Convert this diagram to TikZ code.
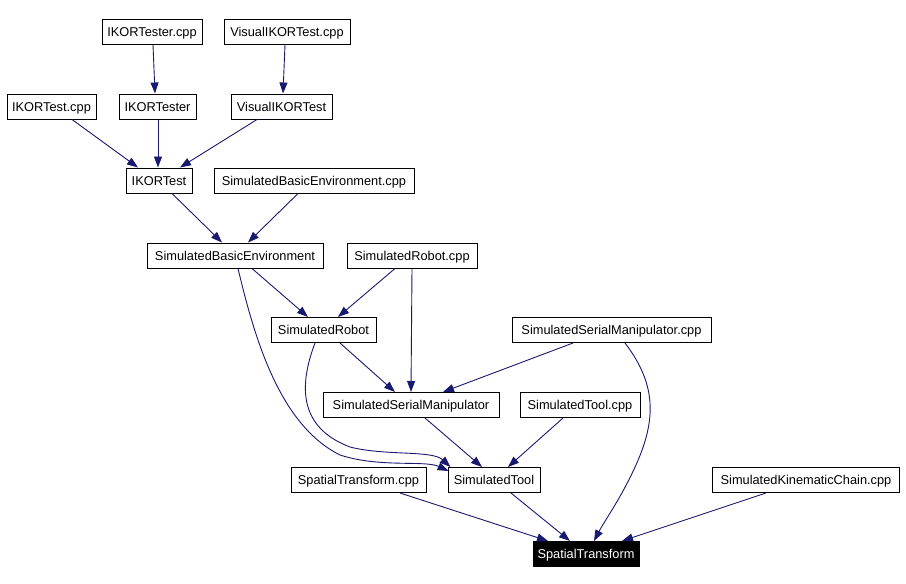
\documentclass[tikz,border=0pt]{standalone}
\usepackage{fontspec}
\setmainfont{Liberation Sans}
\usetikzlibrary{arrows.meta}
\definecolor{edgec}{RGB}{25,25,112}
\begin{document}
\begin{tikzpicture}[x=1pt,y=-1pt,
  box/.style={draw=black,line width=1pt,minimum height=25pt,inner xsep=4pt,inner ysep=0pt,
    text height=10.8pt,text depth=1.6pt,
    font=\fontsize{12.8}{15}\selectfont,fill=white},
  blackbox/.style={box,fill=black,text=white},
  edge/.style={draw=edgec,line width=0.9pt,-{Triangle[length=11pt,width=8pt]}}]
\useasboundingbox[fill=white] (0,0) rectangle (906,584);
\node[box,minimum width=100pt] (itc) at (152,31.5) {IKORTester.cpp};
\node[box,minimum width=126pt] (vtc) at (287,31.5) {VisualIKORTest.cpp};
\node[box,minimum width=89pt] (itcpp) at (51.5,106.5) {IKORTest.cpp};
\node[box,minimum width=77pt] (ite) at (157.5,106.5) {IKORTester};
\node[box,minimum width=101pt] (vit) at (281.5,106.5) {VisualIKORTest};
\node[box,minimum width=66pt] (ikt) at (159,180.5) {IKORTest};
\node[box,minimum width=200pt] (sbec) at (314,180.5) {SimulatedBasicEnvironment.cpp};
\node[box,minimum width=176pt] (sbe) at (235,255.5) {SimulatedBasicEnvironment};
\node[box,minimum width=130pt] (src) at (412,255.5) {SimulatedRobot.cpp};
\node[box,minimum width=105pt] (sr) at (323.5,330) {SimulatedRobot};
\node[box,minimum width=199pt] (ssmc) at (611.5,330) {SimulatedSerialManipulator.cpp};
\node[box,minimum width=176pt] (ssm) at (411,405) {SimulatedSerialManipulator};
\node[box,minimum width=120pt] (stc) at (580,405) {SimulatedTool.cpp};
\node[box,minimum width=135pt] (stfc) at (358.5,480) {SpatialTransform.cpp};
\node[box,minimum width=92pt] (st) at (494,480) {SimulatedTool};
\node[box,minimum width=187pt] (skc) at (806,480) {SimulatedKinematicChain.cpp};
\node[blackbox,minimum width=106pt] (sptf) at (586,554) {SpatialTransform};
% edges
\draw[edge] ([xshift=1pt]itc.south) -- ([xshift=-2.5pt]ite.north);
\draw[edge] ([xshift=-2pt]vtc.south) -- ([xshift=1.5pt]vit.north);
\draw[edge] ([xshift=20.5pt]itcpp.south) -- ([xshift=-21pt]ikt.north);
\draw[edge] ([xshift=0.5pt]ite.south) -- ([xshift=-1pt]ikt.north);
\draw[edge] ([xshift=-24.5pt]vit.south) -- ([xshift=21pt]ikt.north);
\draw[edge] ([xshift=13pt]ikt.south) -- ([xshift=-13pt]sbe.north);
\draw[edge] ([xshift=-16pt]sbec.south) -- ([xshift=13pt]sbe.north);
\draw[edge] ([xshift=17pt]sbe.south) -- ([xshift=-15.5pt]sr.north);
\draw[edge] ([xshift=-17pt]src.south) -- ([xshift=14.5pt]sr.north);
\draw[edge] (src.south) -- (ssm.north);
\draw[edge] ([xshift=3pt]sbe.south) .. controls (255,340) and (280,425) .. (340,455)
   .. controls (380,468) and (425,460) .. ([xshift=1pt,yshift=9pt]st.west);
\draw[edge] ([xshift=-8.5pt]sr.south) .. controls (298,388) and (300,428) .. (350,447)
   .. controls (385,456) and (432,450) .. ([xshift=3pt]st.north west);
\draw[edge] ([xshift=-38.5pt]ssmc.south) -- ([xshift=32pt]ssm.north);
\draw[edge] ([xshift=16.5pt]sr.south) -- ([xshift=-16pt]ssm.north);
\draw[edge] ([xshift=14pt]ssm.south) -- ([xshift=-12pt]st.north);
\draw[edge] ([xshift=-17pt]stc.south) -- ([xshift=14pt]st.north);
\draw[edge] ([xshift=13.5pt]ssmc.south) .. controls (657,385) and (656,420) .. (636,465)
   .. controls (620,500) and (605,520) .. ([xshift=8pt]sptf.north);
\draw[edge] ([xshift=41.5pt]stfc.south) -- ([xshift=-38pt]sptf.north);
\draw[edge] ([xshift=17pt]st.south) -- ([xshift=-16pt]sptf.north);
\draw[edge] ([xshift=-40pt]skc.south) -- ([xshift=36pt]sptf.north);
\end{tikzpicture}
\end{document}
